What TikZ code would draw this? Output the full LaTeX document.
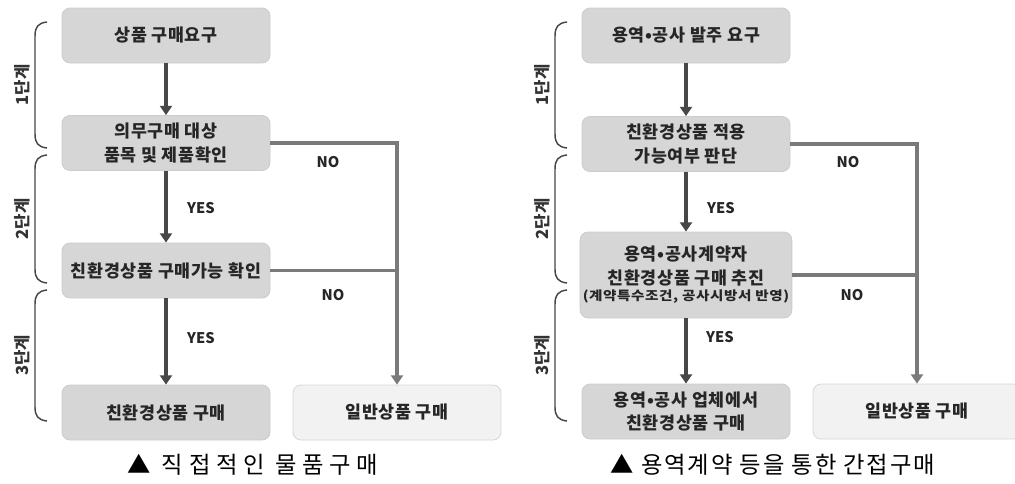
\documentclass[tikz,border=0pt]{standalone}
\usepackage{fontspec}
\setmainfont{Noto Sans CJK KR}
\newfontfamily\boxfont[LetterSpace=4]{Noto Sans CJK KR}
\newfontfamily\capwide[LetterSpace=24]{Noto Sans CJK KR}
\newfontfamily\capnarrow[LetterSpace=8]{Noto Sans CJK KR}
\usetikzlibrary{arrows.meta,positioning,calc}
\tikzset{
  stepbox/.style={rectangle, rounded corners=6pt, draw=black!20, fill=black!16,
    line width=0.6pt, align=center, minimum width=156pt, minimum height=41.25pt,
    inner sep=2pt, font=\boxfont\bfseries\fontsize{13}{17.5}\selectfont, text=black!85},
  endbox/.style={stepbox, fill=black!5, draw=black!16},
  yesflow/.style={-{Triangle[length=7pt,width=9pt]}, line width=2.3pt, draw=black!72},
  noflow/.style={-{Triangle[length=7pt,width=9pt]}, line width=2.3pt, draw=black!52},
  noline/.style={line width=2.3pt, draw=black!52},
  annot/.style={font=\bfseries\fontsize{11}{12}\selectfont, text=black!85},
  stage/.style={font=\bfseries\fontsize{12.5}{14}\selectfont, rotate=90, text=black!80},
  bracebar/.style={line width=1.1pt, draw=black!72},
  caption/.style={font=\fontsize{17.5}{20}\selectfont, text=black},
}
\begin{document}
\begin{tikzpicture}[x=0.75pt, y=-0.75pt]
  \useasboundingbox (0,0) rectangle (1015,483);
  % direct purchase
  \node[stepbox] (a1) at (166,35.5) {상품 구매요구};
  \node[stepbox] (a2) at (166,143) {의무구매 대상\\품목 및 제품확인};
  \node[stepbox] (a3) at (166,270.5) {친환경상품 구매가능 확인};
  \node[stepbox] (a4) at (166,412.5) {친환경상품 구매};
  \node[endbox] (a5) at (397,412.5) {일반상품 구매};
  \draw[yesflow] (a1) -- (a2);
  \draw[yesflow] (a2) -- (a3);
  \draw[yesflow] (a3) -- (a4);
  \draw[noflow] (a2.east) -| (a5.north);
  \draw[noline] (a3.east) -- (a3.east -| a5.north);
  \node[annot] at (201,208) {YES};
  \node[annot] at (201,338) {YES};
  \node[annot] at (328,162) {NO};
  \node[annot] at (333,295) {NO};
  \node[caption] (capa) at (253,465) {\capwide ▲ 직접적인 물품구매};
  % indirect purchase
  \node[stepbox] (b1) at (686,35.5) {용역•공사 발주 요구};
  \node[stepbox] (b2) at (686,144) {친환경상품 적용\\가능여부 판단};
  \node[stepbox, minimum height=64.5pt] (b3) at (686,275)
    {용역•공사계약자\\친환경상품 구매 추진\\[-5pt]{\fontsize{9.5}{11}\selectfont\scalebox{1.15}[1]{(계약특수조건, 공사시방서 반영)}}};
  \node[stepbox] (b4) at (686,411.5) {용역•공사 업체에서\\친환경상품 구매};
  \node[endbox] (b5) at (917,411.5) {일반상품 구매};
  \draw[yesflow] (b1) -- (b2);
  \draw[yesflow] (b2) -- (b3);
  \draw[yesflow] (b3) -- (b4);
  \draw[noflow] (b2.east) -| (b5.north);
  \draw[noline] (b3.east) -- (b3.east -| b5.north);
  \node[annot] at (721,208) {YES};
  \node[annot] at (720,337) {YES};
  \node[annot] at (848,162) {NO};
  \node[annot] at (852,295) {NO};
  \node[caption] (capb) at (773,465) {\capnarrow ▲ 용역계약 등을 통한 간접구매};
  % stage braces
  \foreach \dx in {0,520}{
    \foreach \ya/\yb/\lab in {22/148/1단계, 155/283/2단계, 290/421/3단계}{
      \draw[bracebar] ($(47+\dx,\ya)$) .. controls ($(38+\dx,\ya+1)$) and ($(35+\dx,\ya+5)$) .. ($(35+\dx,\ya+14)$)
        -- ($(35+\dx,\yb-14)$) .. controls ($(35+\dx,\yb-5)$) and ($(38+\dx,\yb-1)$) .. ($(47+\dx,\yb)$);
      \node[stage] at ($(22+\dx,{(\ya+\yb)/2})$) {\lab};
    }
  }
\end{tikzpicture}
\end{document}
